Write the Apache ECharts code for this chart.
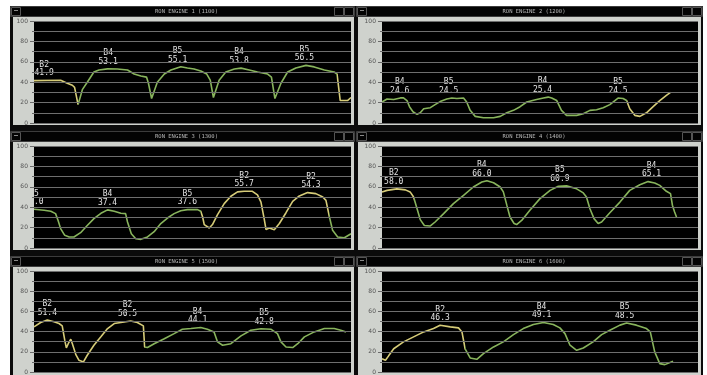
<!DOCTYPE html>
<html>
<head>
<meta charset="utf-8">
<script src="https://cdn.jsdelivr.net/npm/echarts@6/dist/echarts.min.js"></script>
<style>
  html, body { margin: 0; padding: 0; background: #fff; }
  #chart { width: 707px; height: 375px; }
</style>
</head>
<body>
<div id="chart"></div>
<script>
const titles = [
  'RON ENGINE 1 (1100)', 'RON ENGINE 2 (1200)',
  'RON ENGINE 3 (1300)', 'RON ENGINE 4 (1400)',
  'RON ENGINE 5 (1500)', 'RON ENGINE 6 (1600)',
];

// x is % of the trace window, y is RON reading
const ron1 = [[0,41.5],[8.4,41.9],[10.5,39],[12.1,37],[12.8,35],[13.9,18],[15.3,33],[16.8,40],[18.9,50],[20.5,52],[23.2,53.1],[26.3,53],[29.5,52],[31.6,48],[33.7,46],[35.5,45],[36.1,39],[37.1,24],[38.9,40],[41.1,48],[43.2,52],[46.3,55.1],[48.4,54],[50.5,53],[52.6,51],[54.5,48],[55.6,42],[56.6,25],[58.4,42],[60.5,50],[63.2,53],[65.3,53.8],[67.9,52],[70.5,50],[73.7,48],[74.9,45],[76,24],[77.9,39],[80,50],[82.6,54],[85.8,56.5],[88.4,55],[91.6,52],[94.7,50],[95.6,48],[96.6,22],[98.9,22],[100,25]];
const ron2 = [[0,20.6],[1.6,23.5],[3.7,23],[5.8,24.6],[6.8,24.6],[7.9,22],[8.7,16],[9.8,11],[11.1,8.5],[12.1,10],[13.2,14],[15.3,15],[16.8,18],[18.4,21],[20.5,23.5],[22.1,24.5],[23.7,24],[25.8,24.5],[26.8,20.6],[27.9,12.4],[29.5,6.5],[32.1,5.2],[35.3,5.2],[37.4,6.5],[39.5,10],[41.6,12.4],[43.7,16],[45.8,20.6],[48.9,23],[51.1,24.5],[52.6,25.4],[53.7,24.5],[55.3,22],[56.8,12.4],[58.4,7.5],[61.6,7.5],[63.7,9],[65.8,12.4],[67.9,13],[70,15],[72.1,18],[73.7,22],[74.7,24.5],[76.3,24],[77.4,22],[78.4,14],[80,7.5],[81.6,6.5],[83.7,10],[85.8,16],[87.9,22],[90,27],[91.3,30]];
const ron3 = [[0,38],[3.2,37],[5.3,36],[6.8,33.7],[7.6,27],[8.4,19],[9.7,12.4],[11.1,10.8],[12.6,10.8],[14.7,15],[16.8,22],[18.9,28.8],[21.1,34],[23.2,37.4],[25.3,36],[27.4,34],[28.9,33.7],[29.5,25.5],[30.7,14],[32.1,9],[33.7,8.5],[35.8,10.8],[37.9,16],[40,24],[42.1,29.4],[44.2,33.7],[46.3,36.6],[48.4,37.6],[51.6,37.6],[52.6,36],[53.2,30.4],[53.7,23],[55.3,19.6],[56.3,23],[57.9,32.7],[60,43.5],[62.1,50.7],[64.2,55],[66.3,55.7],[68.9,55.6],[70.5,52],[71.6,45],[72.6,28.8],[73.2,18],[74.2,19.6],[75.8,18],[77.4,24],[79.5,34.6],[81.6,45.8],[83.7,51],[86.3,54.3],[88.9,53.3],[91.1,50],[92.1,46.7],[92.6,45],[93.2,30.4],[94.2,17.3],[95.8,10.8],[97.9,10],[100,14]];
const ron4 = [[0,55],[1.6,56.5],[4.7,58],[7.4,57],[8.9,55],[10,50],[11.1,38.5],[12.1,27.8],[13.4,22],[15.3,21.6],[16.8,25.5],[19.5,33.7],[22.6,43.5],[25.8,51.6],[28.9,59.8],[31.6,64.7],[33.2,66],[35.3,64],[37.4,59.8],[38.4,55],[39.5,42],[40.5,30.4],[41.8,24],[42.6,23],[44.2,27],[46.8,37],[50,48.4],[53.2,56.5],[55.8,60.5],[58.4,60.9],[61.6,58],[63.7,54],[64.7,50],[65.8,38.5],[67.1,28.8],[68.4,24],[69.5,25.5],[72.1,34.6],[75.3,45],[78.4,56.5],[81.6,62],[84.2,65.1],[86.3,63.7],[87.9,61.4],[90,55.6],[91.3,53.3],[91.9,42],[92.6,35.3],[93.2,30.4]];
const ron5 = [[0,44.7],[2.1,49],[4.2,51.4],[6.3,49.7],[7.9,48],[8.9,45.7],[9.7,31.5],[10.2,23.8],[10.8,28],[11.6,32.5],[12.1,28],[13.2,17.2],[14.2,11.6],[15.6,10],[16.8,16.6],[18.9,26.5],[21.1,34.8],[23.2,43],[25.3,48],[27.4,49],[30.5,50.5],[32.6,49],[34.5,45.7],[34.9,24.8],[35.8,24.2],[37.9,28],[41.1,33],[44.2,38],[46.8,42.4],[49.5,43],[52.6,44.1],[54.7,42.4],[56.8,39.7],[57.9,29.8],[59.5,26.5],[62.1,28],[65.3,35.8],[68.4,41.4],[71.6,42.8],[74.7,42.4],[76.8,38],[77.9,29.8],[79.5,24.8],[81.6,24.2],[83.2,28],[85.3,34.8],[88.4,39.7],[91.6,43],[94.7,43],[96.8,41.4],[98.4,39.7]];
const ron6 = [[0,13.2],[1.1,11.6],[2.1,16],[3.7,23],[6.8,29.8],[10,34.8],[13.2,39.7],[16.3,43],[18.4,46.3],[21.6,44.7],[24.2,43.7],[25.3,39.7],[26.3,23],[27.9,13.9],[30,12.6],[32.1,18.2],[35.3,24.8],[38.4,29.8],[41.6,37],[44.7,43],[47.9,47],[51.1,49.1],[54.2,47],[56.3,43.7],[57.9,38],[59.5,26.5],[61.6,21.5],[63.7,23.8],[66.8,29.8],[69.5,37],[72.1,41.4],[75.3,46.4],[77.4,48.5],[80.5,46.4],[83.7,43],[84.9,39.7],[86.3,19.9],[87.9,8.3],[89.5,7.3],[92.1,10.6]];

// peak tags: [x, blend, value]
const tags1 = [[3.2,'B2',41.9],[23.4,'B4',53.1],[45.3,'B5',55.1],[64.7,'B4',53.8],[85.3,'B5',56.5]];
const tags2 = [[5.6,'B4',24.6],[21.1,'B5',24.5],[50.8,'B4',25.4],[74.7,'B5',24.5]];
const tags3 = [[0,'B5',38.0],[23.2,'B4',37.4],[48.4,'B5',37.6],[66.3,'B2',55.7],[87.4,'B2',54.3]];
const tags4 = [[3.7,'B2',58.0],[31.6,'B4',66.0],[56.3,'B5',60.9],[85.3,'B4',65.1]];
const tags5 = [[4.2,'B2',51.4],[29.5,'B2',50.5],[51.6,'B4',44.1],[72.6,'B5',42.8]];
const tags6 = [[18.4,'B2',46.3],[50.5,'B4',49.1],[76.8,'B5',48.5]];

// x ranges drawn in yellow (rest is green)
const yellow1 = [[0,13.9],[95.6,100]];
const yellow2 = [[77.4,100]];
const yellow3 = [[52.6,93.2]];
const yellow4 = [[0,10]];
const yellow5 = [[0,34.9]];
const yellow6 = [[0,26.3]];

const traces = [ron1, ron2, ron3, ron4, ron5, ron6];
const tags = [tags1, tags2, tags3, tags4, tags5, tags6];
const yellows = [yellow1, yellow2, yellow3, yellow4, yellow5, yellow6];

const GREEN = '#88b45c';
const YELLOW = '#d6cc78';
const FRAME = '#cfd2cd';

const chart = echarts.init(document.getElementById('chart'));

const grids = [], xAxes = [], yAxes = [], series = [], visualMaps = [], graphics = [];

graphics.push({ type: 'rect', z: -5, shape: { x: 10, y: 6, width: 693, height: 369 }, style: { fill: '#0b0b0b' } });

traces.forEach((trace, i) => {
  const r = Math.floor(i / 2), c = i % 2;
  const wy = 6 + 125 * r;
  const wx = c === 0 ? 10 : 356;
  const ww = c === 0 ? 345 : 347;
  const fx = c === 0 ? 13 : 358;
  const fw = c === 0 ? 341 : 343;
  const gl = c === 0 ? 34 : 382;
  const gw = c === 0 ? 317 : 316;

  // title bar
  graphics.push({ type: 'rect', z: -4, shape: { x: wx + 0.5, y: wy + 0.5, width: ww - 1, height: 10 }, style: { fill: '#030303', stroke: '#3c3c3c', lineWidth: 1 } });
  graphics.push({ type: 'rect', z: -3, shape: { x: wx + 1.5, y: wy + 1.5, width: 9, height: 8 }, style: { fill: 'none', stroke: '#555', lineWidth: 1 } });
  graphics.push({ type: 'line', z: -3, shape: { x1: wx + 4, y1: wy + 4.5, x2: wx + 8, y2: wy + 4.5 }, style: { stroke: '#888', lineWidth: 1 } });
  graphics.push({ type: 'rect', z: -3, shape: { x: wx + ww - 20.5, y: wy + 1.5, width: 9, height: 8 }, style: { fill: 'none', stroke: '#555', lineWidth: 1 } });
  graphics.push({ type: 'rect', z: -3, shape: { x: wx + ww - 10.5, y: wy + 1.5, width: 9, height: 8 }, style: { fill: 'none', stroke: '#555', lineWidth: 1 } });
  graphics.push({ type: 'text', z: -3, x: gl + gw / 2 - 6, y: wy + 5.5, style: { text: titles[i], fill: '#b8b8b8', font: '5.5px "DejaVu Sans Mono"', align: 'center', verticalAlign: 'middle' } });

  // grey frame around plot
  graphics.push({ type: 'rect', z: -4, shape: { x: fx, y: wy + 11, width: fw, height: 108 }, style: { fill: FRAME } });
  // left strip repainted over tag labels so they clip at the plot edge
  graphics.push({ type: 'rect', z: 50, shape: { x: fx, y: wy + 11, width: gl - fx, height: 108 }, style: { fill: FRAME } });

  const top = 21 + 125 * r;
  grids.push({ left: gl, top: top, width: gw, height: 102, show: true, backgroundColor: '#000', borderWidth: 0 });

  xAxes.push({ type: 'value', gridIndex: i, min: 0, max: 100, show: false });
  yAxes.push({
    type: 'value', gridIndex: i, min: 0, max: 100, interval: 20, z: 60,
    axisLine: { show: false },
    axisTick: { show: true, length: 4, lineStyle: { color: '#6a6a6a' } },
    minorTick: { show: true, splitNumber: 2, length: 2, lineStyle: { color: '#6a6a6a' } },
    axisLabel: { color: '#555', fontSize: 6, fontFamily: 'DejaVu Sans', margin: 6 },
    splitLine: { lineStyle: { color: '#6e6e6e', width: 1 } },
    minorSplitLine: { show: true, lineStyle: { color: '#6e6e6e', width: 1 } },
  });

  series.push({
    type: 'line', xAxisIndex: i, yAxisIndex: i,
    data: trace, showSymbol: false, symbol: 'none',
    lineStyle: { width: 1.6 },
    markPoint: {
      symbol: 'circle', symbolSize: 0, z: 5,
      label: {
        show: true, position: 'top', distance: 3,
        color: '#e4e4e4', fontSize: 8, lineHeight: 8.5,
        fontFamily: 'DejaVu Sans Mono',
        formatter: (p) => p.name + '\n' + p.value.toFixed(1),
      },
      data: tags[i].map(([x, name, v]) => ({ name: name, coord: [x, v], value: v })),
    },
  });

  const pieces = [];
  let last = 0;
  yellows[i].forEach(([a, b]) => {
    if (a > last) pieces.push({ gte: last, lt: a, color: GREEN });
    pieces.push({ gte: a, lt: b, color: YELLOW });
    last = b;
  });
  if (last < 100) pieces.push({ gte: last, lte: 100, color: GREEN });
  else pieces[pieces.length - 1].lte = 100;
  visualMaps.push({ type: 'piecewise', show: false, dimension: 0, seriesIndex: i, pieces: pieces });
});

chart.setOption({
  backgroundColor: '#fff',
  animation: false,
  grid: grids,
  xAxis: xAxes,
  yAxis: yAxes,
  visualMap: visualMaps,
  graphic: graphics,
  series: series,
});
</script>
</body>
</html>
